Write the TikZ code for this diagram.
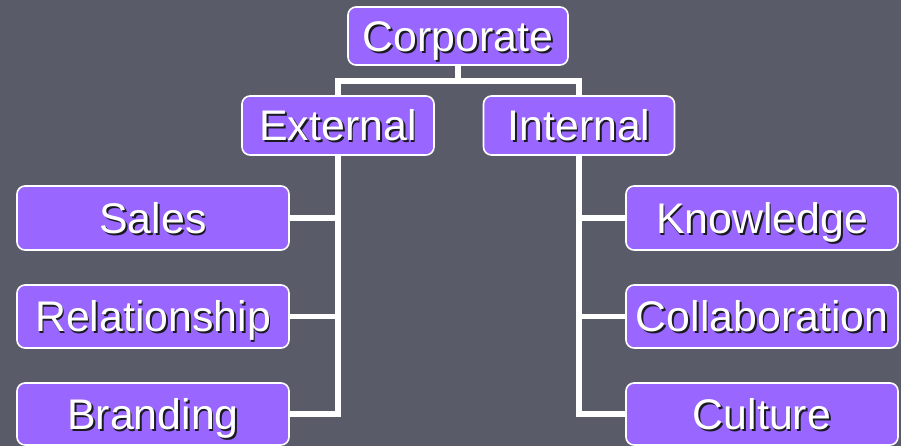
\documentclass[tikz,border=0pt]{standalone}
\usepackage{fontspec}
\setmainfont{Liberation Sans}
\definecolor{bgc}{HTML}{595B69}
\definecolor{boxc}{HTML}{9966FF}
\definecolor{shc}{HTML}{1A1A22}
\newcommand{\shtxt}[1]{\makebox[0pt][l]{\hspace{1.8pt}\raisebox{-1.8pt}{\color{shc}#1}}#1}
\tikzset{
  box/.style={draw=white, line width=1.6bp, fill=boxc, rounded corners=8bp, text=white,
    font=\fontsize{43}{48}\selectfont, inner sep=0pt, text height=31bp, text depth=0pt,
    minimum width=#1, minimum height=62bp},
  link/.style={draw=white, line width=5.5bp}
}
\begin{document}
\begin{tikzpicture}[x=1bp,y=-1bp]
\fill[bgc] (0,0) rectangle (901,446);
\useasboundingbox (0,0) rectangle (901,446);
\node[box=220bp, minimum height=58bp] (corp) at (458,36) {\shtxt{Corporate}};
\node[box=192bp, minimum height=59bp] (ext) at (338,125.5) {\shtxt{External}};
\node[box=191bp, minimum height=59bp] (int) at (579,125.5) {\shtxt{Internal}};
\node[box=272bp, minimum height=64bp] (sal) at (153,218) {\shtxt{Sales}};
\node[box=272bp, minimum height=63bp] (rel) at (153,316.5) {\shtxt{Relationship}};
\node[box=272bp, minimum height=62bp] (bra) at (153,414) {\shtxt{Branding}};
\node[box=272bp, minimum height=64bp] (kno) at (762,218) {\shtxt{Knowledge}};
\node[box=272bp, minimum height=63bp] (col) at (762,316.5) {\shtxt{Collaboration}};
\node[box=272bp, minimum height=62bp] (cul) at (762,414) {\shtxt{Culture}};
\coordinate (hub) at (458,81);
\begin{scope}[on background layer/.style={}]
\end{scope}
\draw[link] (corp.south) -- (hub);
\draw[link] (ext.north) -- (ext.north |- hub) -- (int.north |- hub) -- (int.north);
\draw[link] (ext.south) -- (ext.south |- bra.east) -- (bra.east);
\draw[link] (ext.south |- sal.east) -- (sal.east);
\draw[link] (ext.south |- rel.east) -- (rel.east);
\draw[link] (int.south) -- (int.south |- cul.west) -- (cul.west);
\draw[link] (int.south |- kno.west) -- (kno.west);
\draw[link] (int.south |- col.west) -- (col.west);
\end{tikzpicture}
\end{document}
